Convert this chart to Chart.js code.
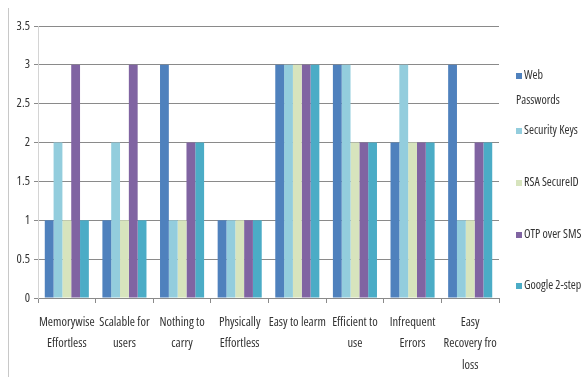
<!DOCTYPE html>
<html>
<head>
<meta charset="utf-8">
<script src="https://cdn.jsdelivr.net/npm/chart.js@4/dist/chart.umd.min.js"></script>
<style>
  html, body { margin: 0; padding: 0; background: #fff; }
  #wrap { position: relative; width: 584px; height: 377px; }
  #frame { position: absolute; left: 8px; top: 8px; bottom: 0; border-left: 1px solid #c8c8c8; }
  canvas { position: absolute; left: 0; top: 0; }
</style>
</head>
<body>
<div id="wrap">
  <div id="frame"></div>
  <canvas id="c" width="584" height="377"></canvas>
</div>
<script>
// Criteria compared across the authentication schemes
const categories = [
  ['Memorywise', 'Effortless'],
  ['Scalable for', 'users'],
  ['Nothing to', 'carry'],
  ['Physically', 'Effortless'],
  ['Easy to learm'],
  ['Efficient to', 'use'],
  ['Infrequent', 'Errors'],
  ['Easy', 'Recovery fro', 'loss']
];

const webPasswords = [1, 1, 3, 1, 3, 3, 2, 3];
const securityKeys = [2, 2, 1, 1, 3, 3, 3, 1];
const rsaSecureID  = [1, 1, 1, 1, 3, 2, 2, 1];
const otpOverSMS   = [3, 3, 2, 1, 3, 2, 2, 2];
const google2Step  = [1, 1, 2, 1, 3, 2, 2, 2];

const seriesNames = [['Web', 'Passwords'], ['Security Keys'], ['RSA SecureID'], ['OTP over SMS'], ['Google 2-step']];
const yTicks = [0, 0.5, 1, 1.5, 2, 2.5, 3, 3.5];

const colors = ['#4f81bd', '#93cddd', '#d7e4bd', '#8064a2', '#4bacc6'];
const seriesData = [webPasswords, securityKeys, rsaSecureID, otpOverSMS, google2Step];

// narrow face: Open Sans with the condensed width
const FAMILY = "'Open Sans', sans-serif";
const STRETCH = 'condensed';
const TEXT = '#333333';

// Legend drawn at the right, one entry per series, long names wrapped
const sideLegend = {
  id: 'sideLegend',
  afterDraw(chart) {
    const ctx = chart.ctx;
    const x0 = chart.chartArea.right + 17;
    const rows = [76, 131, 183, 235, 286];
    ctx.save();
    ctx.font = 'normal ' + STRETCH + ' 12px ' + FAMILY;
    ctx.textBaseline = 'middle';
    ctx.textAlign = 'left';
    chart.data.datasets.forEach((ds, i) => {
      const y = rows[i];
      ctx.fillStyle = ds.backgroundColor;
      ctx.fillRect(x0, y - 3, 6, 6);
      ctx.fillStyle = TEXT;
      const lines = Array.isArray(ds.label) ? ds.label : [ds.label];
      lines.forEach((t, k) => ctx.fillText(t, x0 + (k === 0 ? 8 : 0), y + k * 25));
    });
    ctx.restore();
  }
};

new Chart(document.getElementById('c'), {
  type: 'bar',
  data: {
    labels: categories,
    datasets: seriesData.map((d, i) => ({
      label: seriesNames[i],
      data: d,
      backgroundColor: colors[i],
      borderWidth: 0,
      barPercentage: 1,
      categoryPercentage: 0.765
    }))
  },
  options: {
    responsive: false,
    animation: false,
    devicePixelRatio: 1,
    layout: { padding: { left: 0, right: 85, top: 26, bottom: 0 } },
    plugins: { legend: { display: false }, tooltip: { enabled: false } },
    scales: {
      x: {
        offset: true,
        grid: { display: true, drawOnChartArea: false, drawTicks: true, tickLength: 5, color: '#8a8a8a', offset: true },
        border: { display: true, color: '#8a8a8a', width: 1 },
        ticks: {
          color: TEXT,
          font: { family: FAMILY, weight: STRETCH, size: 12.5, lineHeight: 1.75 },
          maxRotation: 0, autoSkip: false, padding: 8
        },
        afterFit(s) { s.height = 79; }
      },
      y: {
        min: 0, max: 3.5,
        afterBuildTicks(s) { s.ticks = yTicks.map(v => ({ value: v })); },
        grid: { color: '#8a8a8a', tickLength: 4, drawTicks: true },
        border: { display: true, color: '#d4d4d4', width: 1 },
        ticks: {
          color: TEXT,
          font: { family: FAMILY, weight: STRETCH, size: 12.5 },
          padding: 4,
          callback: v => String(v)
        },
        afterFit(s) { s.width = 38; }
      }
    }
  },
  plugins: [sideLegend]
});
</script>
</body>
</html>
